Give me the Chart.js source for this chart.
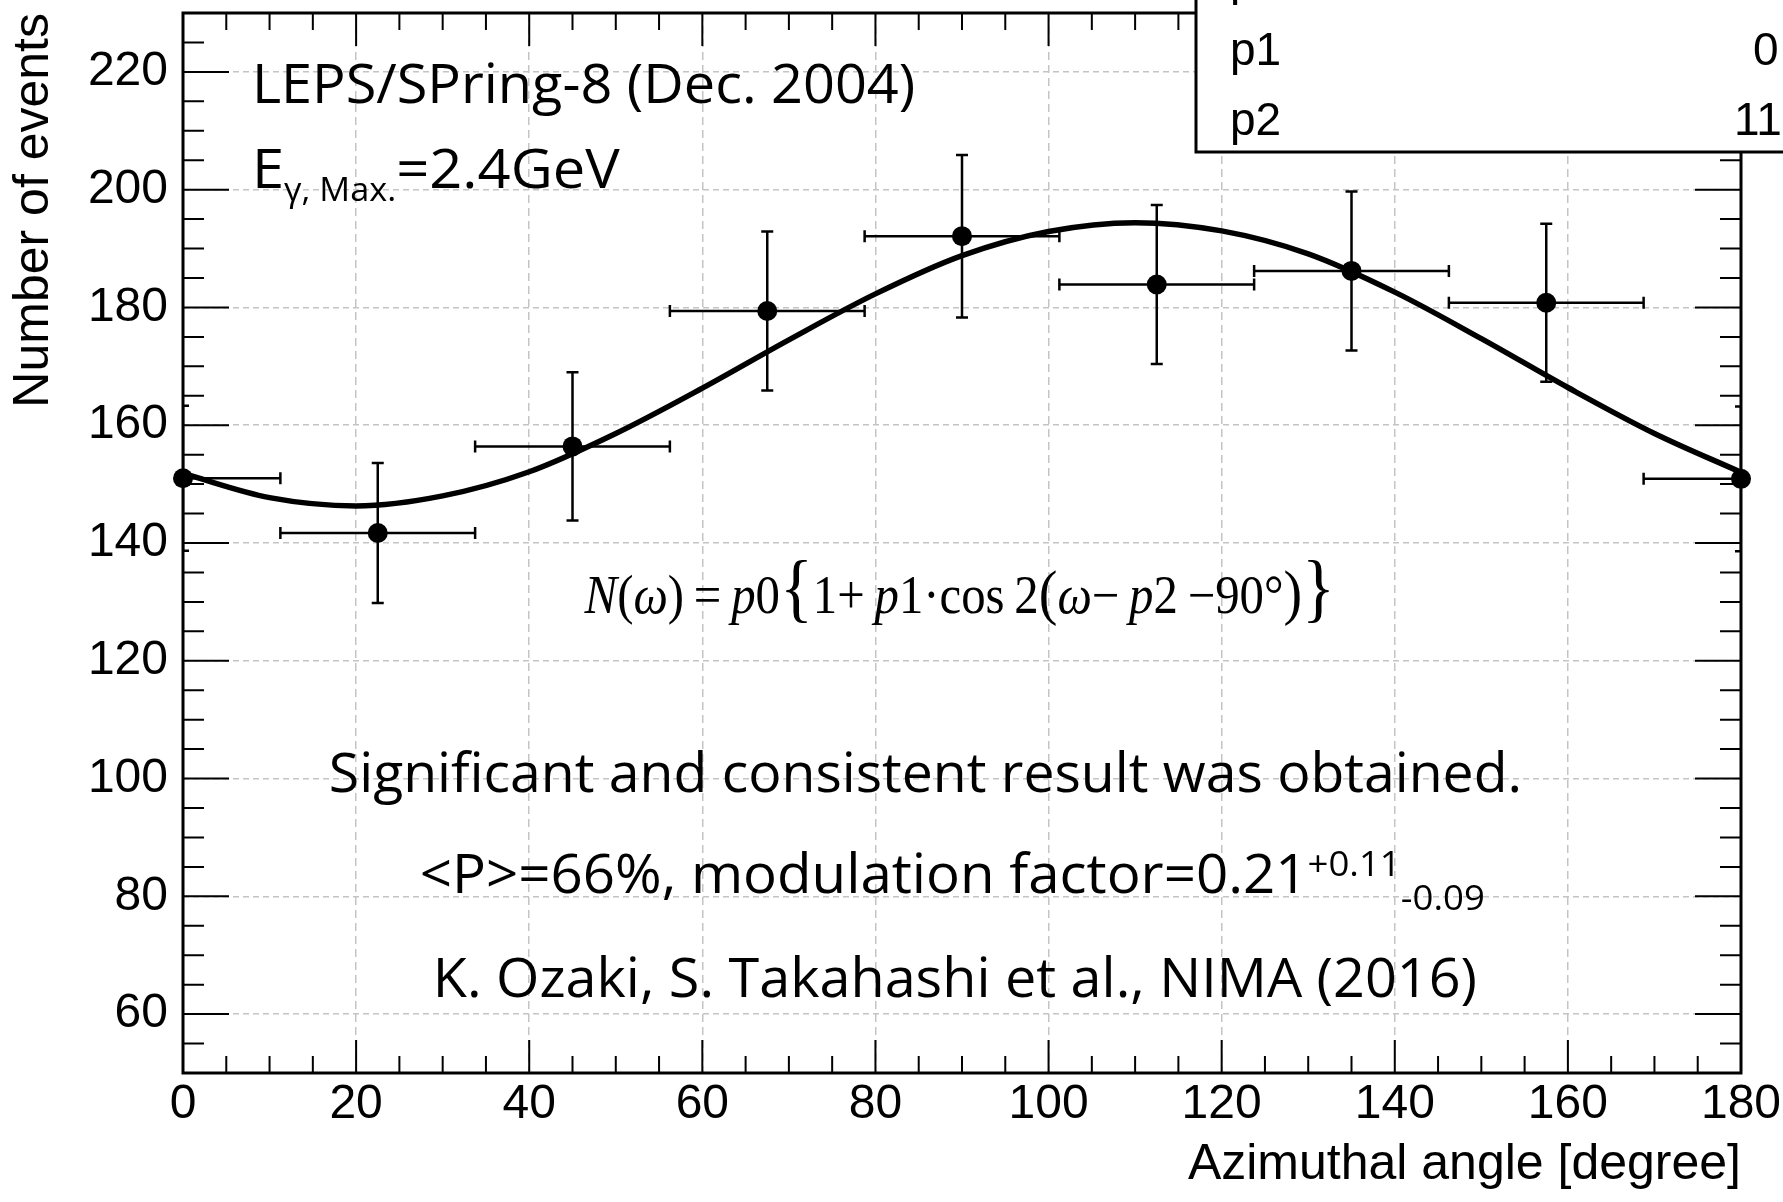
<!DOCTYPE html>
<html>
<head>
<meta charset="utf-8">
<script src="https://cdn.jsdelivr.net/npm/chart.js@4.4.1/dist/chart.umd.min.js"></script>
<style>
  html, body { margin: 0; padding: 0; background: #fff; }
  canvas { display: block; }
</style>
</head>
<body>
<canvas id="azimuthChart" width="1783" height="1202"></canvas>
<script>
// Azimuthal angle distribution, one bin every 22.5 degrees
const binCenters = [0, 22.5, 45, 67.5, 90, 112.5, 135, 157.5, 180];
const binHalfWidths = [11.25, 11.25, 11.25, 11.25, 11.25, 11.25, 11.25, 11.25, 11.25];
const eventCounts = [151.0, 141.7, 156.4, 179.4, 192.1, 183.9, 186.2, 180.8, 150.9];
const countErrors = [12.3, 11.9, 12.6, 13.5, 13.8, 13.5, 13.5, 13.4, 12.3];

// fitted curve, sampled every 10 degrees
const fitAngles = [0, 10, 20, 30, 40, 50, 60, 70, 80, 90, 100, 110, 120, 130, 140, 150, 160, 170, 180];
const fitValues = [151.8, 147.7, 146.3, 148.0, 152.1, 158.6, 166.3, 174.5, 182.3, 188.8, 192.9, 194.4, 193.0, 189.1, 182.6, 174.7, 166.4, 158.6, 152.0];

const xTickValues = [0, 20, 40, 60, 80, 100, 120, 140, 160, 180];
const yTickValues = [60, 80, 100, 120, 140, 160, 180, 200, 220];

// fit parameter box (cut at the top right)
const statNames = ["p0", "p1", "p2"];
const statValues = ["17", "0", "11"];

const ROOT_FONT = "'Liberation Sans', Arial, sans-serif";
const SLIDE_FONT = "'Open Sans', sans-serif";
const MATH_FONT = "'Liberation Serif', 'Times New Roman', serif";

const FRAME = { width: 3, tickWidth: 2, majorX: 33, minorX: 17, majorY: 46, minorY: 21 };
const BAR = { width: 2.5, cap: 6 };
const THIN = "\u2009";

// text placed on the plot, anchored in axis units (left/right in degrees, baseline in events)
const notes = [
  { left: 7.96, right: 84.6, base: 214.7, runs: [{ text: "LEPS/SPring-8 (Dec. 2004)", size: 54 }] },
  {
    left: 7.96, right: 50.45, base: 200.3,
    runs: [
      { text: "E", size: 54 },
      { text: "γ, Max.", size: 32, dy: 13 },
      { text: "=2.4GeV", size: 54 },
    ],
  },
  {
    left: 46.4, right: 133.1, base: 128.1,
    runs: [
      { text: "N", size: 54, math: true, italic: true },
      { text: "(", size: 54, math: true },
      { text: "ω", size: 54, math: true, italic: true },
      { text: ")" + THIN + "=" + THIN, size: 54, math: true },
      { text: "p", size: 54, math: true, italic: true },
      { text: "0", size: 54, math: true },
      { text: "{", size: 76, math: true },
      { text: "1+" + THIN, size: 54, math: true },
      { text: "p", size: 54, math: true, italic: true },
      { text: "1·cos" + THIN + "2", size: 54, math: true },
      { text: "(", size: 62, math: true },
      { text: "ω", size: 54, math: true, italic: true },
      { text: "−" + THIN, size: 54, math: true },
      { text: "p", size: 54, math: true, italic: true },
      { text: "2" + THIN + "−" + "90°", size: 54, math: true },
      { text: ")", size: 62, math: true },
      { text: "}", size: 76, math: true },
    ],
  },
  { left: 16.85, right: 154.7, base: 97.7, runs: [{ text: "Significant and consistent result was obtained.", size: 54 }] },
  {
    left: 27.36, right: 150.4, base: 80.6,
    runs: [
      { text: "<P>=66%, modulation factor=0.21", size: 54 },
      { text: "+0.11", size: 35, dy: -17 },
      { text: "-0.09", size: 35, dy: 17 },
    ],
  },
  { left: 28.86, right: 149.5, base: 62.9, runs: [{ text: "K. Ozaki, S. Takahashi et al., NIMA (2016)", size: 54 }] },
];

function runFont(run) {
  const family = run.math ? MATH_FONT : SLIDE_FONT;
  return `${run.italic ? "italic " : ""}${run.size}px ${family}`;
}

// draws a row of text pieces and squeezes/stretches it to the given width
function drawRun(ctx, runs, left, baseline, width) {
  let total = 0;
  runs.forEach((r) => {
    ctx.font = runFont(r);
    r.w = ctx.measureText(r.text).width;
    total += r.w;
  });
  ctx.save();
  ctx.translate(left, baseline);
  ctx.scale(width / total, 1);
  ctx.fillStyle = "#000";
  ctx.textBaseline = "alphabetic";
  ctx.textAlign = "left";
  let x = 0;
  runs.forEach((r) => {
    ctx.font = runFont(r);
    ctx.fillText(r.text, x, r.dy || 0);
    x += r.w;
  });
  ctx.restore();
}

function drawErrorBars(chart) {
  const { ctx, chartArea: a, scales: { x, y } } = chart;
  ctx.save();
  ctx.beginPath();
  ctx.rect(a.left, a.top, a.right - a.left, a.bottom - a.top);
  ctx.clip();
  ctx.strokeStyle = "#000";
  ctx.lineWidth = BAR.width;
  ctx.beginPath();
  binCenters.forEach((c, i) => {
    const px = x.getPixelForValue(c);
    const py = y.getPixelForValue(eventCounts[i]);
    const x0 = x.getPixelForValue(c - binHalfWidths[i]);
    const x1 = x.getPixelForValue(c + binHalfWidths[i]);
    const y0 = y.getPixelForValue(eventCounts[i] - countErrors[i]);
    const y1 = y.getPixelForValue(eventCounts[i] + countErrors[i]);
    ctx.moveTo(x0, py); ctx.lineTo(x1, py);
    ctx.moveTo(x0, py - BAR.cap); ctx.lineTo(x0, py + BAR.cap);
    ctx.moveTo(x1, py - BAR.cap); ctx.lineTo(x1, py + BAR.cap);
    ctx.moveTo(px, y0); ctx.lineTo(px, y1);
    ctx.moveTo(px - BAR.cap, y0); ctx.lineTo(px + BAR.cap, y0);
    ctx.moveTo(px - BAR.cap, y1); ctx.lineTo(px + BAR.cap, y1);
  });
  ctx.stroke();
  ctx.restore();
}

// ROOT style frame: box on all four sides with inward ticks
function drawFrame(chart) {
  const { ctx, chartArea: a, scales: { x, y } } = chart;
  ctx.save();
  ctx.strokeStyle = "#000";
  ctx.lineWidth = FRAME.tickWidth;
  ctx.beginPath();
  for (let v = x.min; v <= x.max; v += 5) {
    const px = x.getPixelForValue(v);
    const len = v % 20 === 0 ? FRAME.majorX : FRAME.minorX;
    ctx.moveTo(px, a.bottom); ctx.lineTo(px, a.bottom - len);
    ctx.moveTo(px, a.top); ctx.lineTo(px, a.top + len);
  }
  for (let v = y.min; v <= y.max; v += 5) {
    const py = y.getPixelForValue(v);
    const len = v % 20 === 0 ? FRAME.majorY : FRAME.minorY;
    ctx.moveTo(a.left, py); ctx.lineTo(a.left + len, py);
    ctx.moveTo(a.right, py); ctx.lineTo(a.right - len, py);
  }
  ctx.stroke();
  ctx.lineWidth = FRAME.width;
  ctx.strokeRect(a.left, a.top, a.right - a.left, a.bottom - a.top);
  ctx.restore();
}

function drawStatsBox(chart) {
  const { ctx } = chart;
  const box = { left: 1196, bottom: 152 };
  ctx.save();
  ctx.fillStyle = "#fff";
  ctx.fillRect(box.left, -10, chart.width, box.bottom + 10);
  ctx.strokeStyle = "#000";
  ctx.lineWidth = 3;
  ctx.strokeRect(box.left, -10, chart.width, box.bottom + 10);
  ctx.fillStyle = "#000";
  ctx.font = `46px ${ROOT_FONT}`;
  ctx.textBaseline = "alphabetic";
  const rows = [-5, 65, 135];
  const valueX = [1738, 1753, 1734];
  statNames.forEach((name, i) => {
    ctx.fillText(name, 1230, rows[i]);
    ctx.fillText(statValues[i], valueX[i], rows[i]);
  });
  ctx.restore();
}

const overlayPlugin = {
  id: "rootOverlay",
  beforeDatasetsDraw(chart) {
    drawErrorBars(chart);
    drawFrame(chart);
  },
  afterDraw(chart) {
    const { ctx, scales: { x, y } } = chart;
    drawStatsBox(chart);
    notes.forEach((n) => {
      const left = x.getPixelForValue(n.left);
      drawRun(ctx, n.runs, left, y.getPixelForValue(n.base), x.getPixelForValue(n.right) - left);
    });
  },
};

Chart.defaults.font.family = ROOT_FONT;
Chart.defaults.color = "#000";

const tickFont = { family: ROOT_FONT, size: 48 };
const titleFont = { family: ROOT_FONT, size: 50 };
const gridStyle = { color: "#c4c4c4", lineWidth: 1.5, drawTicks: false };

// keep the frame exactly where the layout puts it, no room reserved for edge labels
const noEdgePadding = (scale) => {
  scale.paddingTop = 0;
  scale.paddingBottom = 0;
  scale.paddingLeft = 0;
  scale.paddingRight = 0;
};

new Chart(document.getElementById("azimuthChart"), {
  type: "scatter",
  data: {
    datasets: [
      {
        label: "Events",
        data: binCenters.map((c, i) => ({ x: c, y: eventCounts[i] })),
        pointRadius: 10,
        pointBackgroundColor: "#000",
        pointBorderWidth: 0,
        clip: false,
        order: 0,
      },
      {
        type: "line",
        label: "Fit",
        data: fitAngles.map((a, i) => ({ x: a, y: fitValues[i] })),
        borderColor: "#000",
        borderWidth: 5.5,
        pointRadius: 0,
        cubicInterpolationMode: "monotone",
        fill: false,
        order: 1,
      },
    ],
  },
  options: {
    responsive: false,
    devicePixelRatio: 1,
    animation: false,
    events: [],
    layout: { padding: { left: 0, right: 42, top: 13, bottom: 0 } },
    plugins: { legend: { display: false }, tooltip: { enabled: false } },
    scales: {
      x: {
        type: "linear",
        min: 0,
        max: 180,
        afterBuildTicks: (scale) => { scale.ticks = xTickValues.map((v) => ({ value: v })); },
        afterFit: (scale) => { scale.height = 129; noEdgePadding(scale); },
        grid: gridStyle,
        border: { display: false, dash: [8, 5] },
        ticks: { font: tickFont, padding: 3, maxRotation: 0, autoSkip: false },
        title: {
          display: true,
          text: "Azimuthal angle [degree]",
          align: "end",
          font: titleFont,
          padding: { top: 0, bottom: 7 },
        },
      },
      y: {
        type: "linear",
        min: 50,
        max: 230,
        afterBuildTicks: (scale) => { scale.ticks = yTickValues.map((v) => ({ value: v })); },
        afterFit: (scale) => { scale.width = 183; noEdgePadding(scale); },
        grid: gridStyle,
        border: { display: false, dash: [6, 4] },
        ticks: { font: tickFont, padding: 15, autoSkip: false },
        title: {
          display: true,
          text: "Number of events",
          align: "end",
          font: titleFont,
          padding: { top: 4, bottom: 0 },
        },
      },
    },
  },
  plugins: [overlayPlugin],
});
</script>
</body>
</html>
